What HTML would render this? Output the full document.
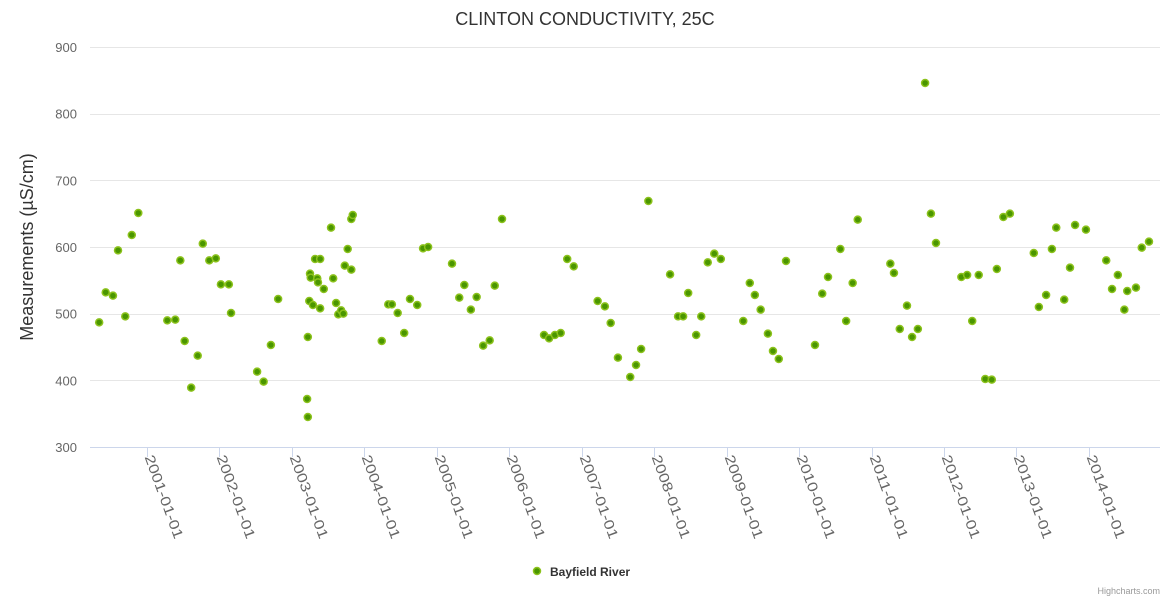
<!DOCTYPE html>
<html><head><meta charset="utf-8"><style>
html,body{margin:0;padding:0;background:#fff;}
svg text{font-family:"Liberation Sans","DejaVu Sans",sans-serif;}
</style></head><body>
<svg id="chart" width="1170" height="600" xmlns="http://www.w3.org/2000/svg">
<rect width="1170" height="600" fill="#fff"/>
<text x="585" y="25" text-anchor="middle" font-size="18" fill="#333">CLINTON CONDUCTIVITY, 25C</text>
<g id="grid"></g>
<g id="yticks"></g>
<text transform="translate(33,247) rotate(-90)" text-anchor="middle" font-size="18" fill="#333">Measurements (µS/cm)</text>
<line x1="90" y1="447.5" x2="1160" y2="447.5" stroke="#ccd6eb"/>
<g id="xticks"></g>
<g id="points"></g>
<g>
<circle cx="537" cy="571" r="3.5" fill="#4a9600" stroke="#8cc21c" stroke-width="1.5"/>
<text x="550" y="576" font-size="12" font-weight="bold" fill="#333">Bayfield River</text>
</g>
<text x="1160" y="594" text-anchor="end" font-size="9" fill="#999">Highcharts.com</text>
</svg>
<script>
const yTicks=[300,400,500,600,700,800,900];
const xTickYears=[2001,2002,2003,2004,2005,2006,2007,2008,2009,2010,2011,2012,2013,2014];
const dates=[2000.34,2000.43,2000.53,2000.60,2000.70,2000.79,2000.88,2001.28,2001.39,2001.46,2001.52,2001.61,2001.70,2001.77,2001.86,2001.95,2002.02,2002.13,2002.16,2002.52,2002.61,2002.71,2002.81,
2003.21,2003.22,2003.22,2003.24,2003.25,2003.26,2003.29,2003.32,2003.35,2003.36,2003.39,2003.39,2003.44,2003.54,2003.57,2003.61,2003.64,2003.68,2003.71,2003.73,2003.77,2003.82,2003.84,2003.82,
2004.24,2004.33,2004.38,2004.46,2004.55,2004.63,2004.73,2004.81,2004.88,2005.21,2005.31,2005.38,2005.47,2005.55,2005.64,2005.73,2005.80,2005.90,
2006.48,2006.55,2006.63,2006.71,2006.80,2006.89,2007.22,2007.32,2007.40,2007.50,2007.67,2007.75,2007.82,2007.92,
2008.22,2008.33,2008.40,2008.47,2008.58,2008.65,2008.74,2008.83,2008.92,2009.23,2009.32,2009.39,2009.47,2009.57,2009.64,2009.72,2009.82,
2010.22,2010.32,2010.40,2010.57,2010.65,2010.74,2010.81,2011.26,2011.31,2011.39,2011.49,2011.56,2011.64,2011.74,2011.82,2011.89,
2012.24,2012.32,2012.39,2012.48,2012.57,2012.66,2012.73,2012.82,2012.91,2013.24,2013.31,2013.41,2013.49,2013.55,2013.66,2013.74,2013.81,2013.96,
2014.24,2014.32,2014.40,2014.49,2014.53,2014.65,2014.73,2014.83];
const values=[487,532,527,595,496,618,651,490,491,580,459,389,437,605,580,583,544,544,501,413,398,453,522,
372,345,465,519,560,554,513,582,553,547,582,508,537,629,553,516,499,505,500,572,597,642,648,566,
459,514,514,501,471,522,513,598,600,575,524,543,506,525,452,460,542,642,
468,463,468,471,582,571,519,511,486,434,405,423,447,669,
559,496,496,531,468,496,577,590,582,489,546,528,506,470,444,432,579,
453,530,555,597,489,546,641,575,561,477,512,465,477,846,650,606,
555,558,489,558,402,401,567,645,650,591,510,528,597,629,521,569,633,626,
580,537,558,506,534,539,599,608];
const NS='http://www.w3.org/2000/svg';
const X0=2001,PX0=147,PPY=72.45;
function xs(d){return PX0+(d-X0)*PPY;}
function ys(v){return 447-(v-300)*400/600;}
const grid=document.getElementById('grid'),yt=document.getElementById('yticks'),xt=document.getElementById('xticks'),pts=document.getElementById('points');
yTicks.forEach(t=>{
 const y=Math.round(ys(t))+0.5;
 if(t>300){const l=document.createElementNS(NS,'line');
 
 
 l.setAttribute('x1',90);l.setAttribute('x2',1160);l.setAttribute('y1',y);l.setAttribute('y2',y);l.setAttribute('stroke','#e6e6e6');grid.appendChild(l);}
 const tx=document.createElementNS(NS,'text');
 
 
 tx.setAttribute('x',77);tx.setAttribute('y',ys(t)+5);tx.setAttribute('text-anchor','end');tx.setAttribute('font-size','13');tx.setAttribute('fill','#666');tx.textContent=t;yt.appendChild(tx);
});
xTickYears.forEach(yr=>{
 const x=Math.round(xs(yr))+0.5;
 const l=document.createElementNS(NS,'line');
 
 
 l.setAttribute('x1',x);l.setAttribute('x2',x);l.setAttribute('y1',447);l.setAttribute('y2',457);l.setAttribute('stroke','#ccd6eb');xt.appendChild(l);
 const tx=document.createElementNS(NS,'text');
 
 
 tx.setAttribute('transform','translate('+(x-3)+',457) rotate(70)');tx.setAttribute('font-size','14');tx.setAttribute('textLength','88');tx.setAttribute('lengthAdjust','spacingAndGlyphs');tx.setAttribute('fill','#666');tx.textContent=yr+'-01-01';xt.appendChild(tx);
});
values.forEach((v,i)=>{
 const c=document.createElementNS(NS,'circle');
 
 
 c.setAttribute('cx',xs(dates[i]));c.setAttribute('cy',ys(v));c.setAttribute('r',3.5);
 c.setAttribute('fill','#4a9600');c.setAttribute('stroke','#8cc21c');c.setAttribute('stroke-width',1.5);
 pts.appendChild(c);
});
</script>
</body></html>
